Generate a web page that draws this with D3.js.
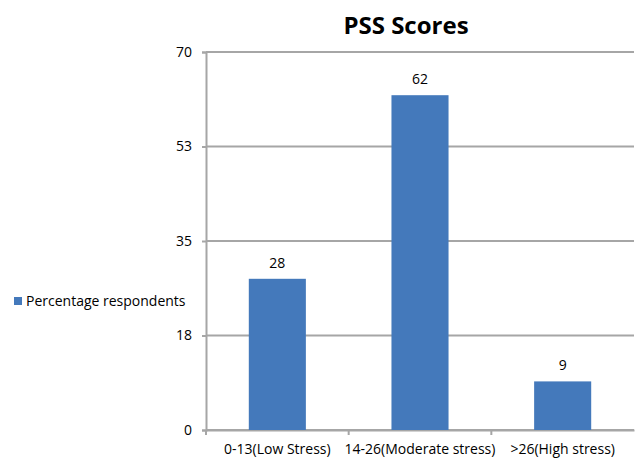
<!DOCTYPE html>
<html>
<head>
<meta charset="utf-8">
<script src="https://cdn.jsdelivr.net/npm/d3@7"></script>
<style>
  body { margin: 0; background: #fff; }
  text { font-family: "Open Sans", "Liberation Sans", sans-serif; fill: #000; }
</style>
</head>
<body>
<div id="chart"></div>
<script>
const categories = ["0-13(Low Stress)", "14-26(Moderate stress)", ">26(High stress)"];
const values = [28, 62, 9];
const tickValues = [0, 17.5, 35, 52.5, 70];
const seriesName = "Percentage respondents";
const chartTitle = "PSS Scores";

const width = 635, height = 459;
const margin = {top: 52, right: 1, bottom: 29, left: 206};
const barColor = "#4479bb";
const gridColor = "#a6a6a6";

let svg = d3.select("#chart")
    .append("svg")
    .attr("width", width)
    .attr("height", height);

let plotW = width - margin.left - margin.right;
let plotH = height - margin.top - margin.bottom;

let g = svg.append("g")
    .attr("transform", `translate(${margin.left}, ${margin.top})`);

let x = d3.scaleBand()
    .domain(categories)
    .range([0, plotW])
    .paddingInner(0.6)
    .paddingOuter(0.3);

let y = d3.scaleLinear()
    .domain([0, 70])
    .range([plotH, 0]);

// gridlines
g.selectAll(".grid")
    .data(tickValues)
    .enter()
    .append("line")
    .attr("x1", 0)
    .attr("x2", plotW)
    .attr("y1", d => y(d))
    .attr("y2", d => y(d))
    .attr("stroke", gridColor)
    .attr("stroke-width", 2);

// y axis
let yAxis = g.append("g")
    .call(d3.axisLeft(y).tickValues(tickValues).tickSize(4).tickPadding(10)
        .tickFormat(d => Math.round(d)));
yAxis.select(".domain").attr("stroke", gridColor).attr("stroke-width", 2);
yAxis.selectAll(".tick line").attr("stroke", gridColor).attr("stroke-width", 2);
yAxis.selectAll(".tick text").style("font-size", "14px");

// x axis with ticks at band boundaries
let xAxis = g.append("g")
    .attr("transform", `translate(0, ${plotH})`)
    .call(d3.axisBottom(x).tickSize(0).tickPadding(14));
xAxis.select(".domain").attr("stroke", gridColor).attr("stroke-width", 2);
xAxis.selectAll(".tick text").style("font-size", "14px");

let step = x.step();
let bounds = categories.map((c, i) => i * step).concat([plotW]);
xAxis.selectAll(".bound")
    .data(bounds.slice(0, 3))
    .enter()
    .append("line")
    .attr("x1", d => d)
    .attr("x2", d => d)
    .attr("y1", 0)
    .attr("y2", 5)
    .attr("stroke", gridColor)
    .attr("stroke-width", 2);

// bars
g.selectAll("rect.bar")
    .data(values)
    .enter()
    .append("rect")
    .attr("class", "bar")
    .attr("x", (d, i) => x(categories[i]))
    .attr("y", d => y(d))
    .attr("width", x.bandwidth())
    .attr("height", d => plotH - y(d))
    .attr("fill", barColor);

// value labels
g.selectAll("text.val")
    .data(values)
    .enter()
    .append("text")
    .attr("class", "val")
    .attr("x", (d, i) => x(categories[i]) + x.bandwidth() / 2)
    .attr("y", d => y(d) - 11)
    .style("text-anchor", "middle")
    .style("font-size", "14px")
    .text(d => d);

// title
svg.append("text")
    .attr("x", 406)
    .attr("y", 34)
    .style("text-anchor", "middle")
    .style("font-size", "24px")
    .style("font-weight", "bold")
    .text(chartTitle);

// legend
svg.append("rect")
    .attr("x", 14)
    .attr("y", 297)
    .attr("width", 8)
    .attr("height", 8)
    .attr("fill", barColor);

svg.append("text")
    .attr("x", 26)
    .attr("y", 306)
    .style("font-size", "14px")
    .text(seriesName);
</script>
</body>
</html>
